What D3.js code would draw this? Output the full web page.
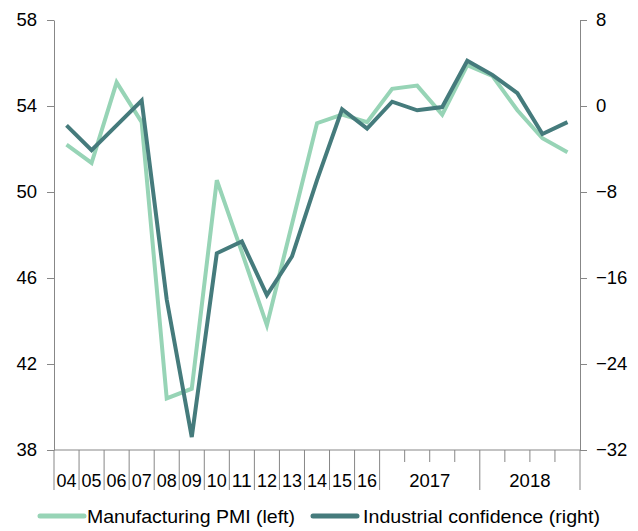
<!DOCTYPE html>
<html>
<head>
<meta charset="utf-8">
<script src="https://cdn.jsdelivr.net/npm/d3@7"></script>
<style>
  body { margin: 0; background: #fff; }
  text { font-family: "Liberation Sans", Arial, sans-serif; fill: #000; }
</style>
</head>
<body>
<div id="chart"></div>
<script>
// periods: yearly 2004-2016, then quarters for 2017 and 2018
const categories = ['04', '05', '06', '07', '08', '09', '10', '11', '12', '13', '14', '15', '16',
  '17Q1', '17Q2', '17Q3', '17Q4', '18Q1', '18Q2', '18Q3', '18Q4']
const yearLabels = ['04', '05', '06', '07', '08', '09', '10', '11', '12', '13', '14', '15', '16']
const groupLabels = [
  { label: '2017', first: '17Q1', last: '17Q4' },
  { label: '2018', first: '18Q1', last: '18Q4' }
]
const pmi = [52.2, 51.35, 55.1, 53.25, 40.4, 40.85, 50.55, 47.2, 43.8, 48.5, 53.2,
  53.6, 53.25, 54.8, 54.95, 53.6, 55.9, 55.4, 53.8, 52.5, 51.85]
const confidence = [-1.8, -4.1, -1.8, 0.5, -18.0, -30.8, -13.7, -12.6, -17.6, -14.0, -6.9,
  -0.3, -2.1, 0.4, -0.4, -0.1, 4.2, 2.9, 1.2, -2.6, -1.5]
const leftTicks = [38, 42, 46, 50, 54, 58]
const rightTicks = [-32, -24, -16, -8, 0, 8]

let width = 638
let height = 531
let margin = { top: 20, left: 54, right: 58, bottom: 81 }

let pmiColor = '#97d4b6'
let confColor = '#457b7c'
let axisColor = '#878787'

let svg = d3.select('#chart')
  .append('svg')
  .attr('width', width)
  .attr('height', height)

let x = d3.scaleBand()
  .domain(categories)
  .range([margin.left, width - margin.right])

let yLeft = d3.scaleLinear()
  .domain([38, 58])
  .range([height - margin.bottom, margin.top])

let yRight = d3.scaleLinear()
  .domain([-32, 8])
  .range([height - margin.bottom, margin.top])

// left axis
let leftAxis = svg.append('g')
  .attr('transform', `translate(${margin.left},0)`)
  .call(d3.axisLeft(yLeft).tickValues(leftTicks).tickSize(7).tickPadding(10).tickSizeOuter(0))
leftAxis.selectAll('path, line').attr('stroke', axisColor)
leftAxis.selectAll('text').attr('font-size', 18.5).attr('fill', '#000')

// right axis
let rightAxis = svg.append('g')
  .attr('transform', `translate(${width - margin.right},0)`)
  .call(d3.axisRight(yRight).tickValues(rightTicks).tickSize(7).tickPadding(9).tickSizeOuter(0))
rightAxis.selectAll('path, line').attr('stroke', axisColor)
rightAxis.selectAll('text').attr('font-size', 18.5).attr('fill', '#000')

// bottom axis: band boundaries, long between years, short between quarters
let baseY = height - margin.bottom
svg.append('line')
  .attr('x1', margin.left)
  .attr('x2', width - margin.right)
  .attr('y1', baseY)
  .attr('y2', baseY)
  .attr('stroke', axisColor)

let boundaries = categories.map(c => ({ pos: x(c), long: !c.includes('Q') || c.endsWith('Q1') }))
boundaries.push({ pos: x.range()[1], long: true })

svg.selectAll('.x-tick')
  .data(boundaries)
  .enter()
  .append('line')
  .attr('class', 'x-tick')
  .attr('x1', d => d.pos)
  .attr('x2', d => d.pos)
  .attr('y1', baseY)
  .attr('y2', d => d.long ? baseY + 40 : baseY + 12)
  .attr('stroke', axisColor)

svg.selectAll('.year-label')
  .data(yearLabels)
  .enter()
  .append('text')
  .attr('class', 'year-label')
  .attr('x', d => x(d) + x.bandwidth() / 2)
  .attr('y', baseY + 37)
  .attr('text-anchor', 'middle')
  .attr('font-size', 18.5)
  .attr('textLength', 20)
  .attr('lengthAdjust', 'spacingAndGlyphs')
  .text(d => d)

svg.selectAll('.group-label')
  .data(groupLabels)
  .enter()
  .append('text')
  .attr('class', 'group-label')
  .attr('x', d => (x(d.first) + x(d.last) + x.bandwidth()) / 2)
  .attr('y', baseY + 37)
  .attr('text-anchor', 'middle')
  .attr('font-size', 18.5)
  .text(d => d.label)

// lines
let pmiLine = d3.line()
  .x((d, i) => x(categories[i]) + x.bandwidth() / 2)
  .y(d => yLeft(d))

let confLine = d3.line()
  .x((d, i) => x(categories[i]) + x.bandwidth() / 2)
  .y(d => yRight(d))

svg.append('path')
  .datum(pmi)
  .attr('d', pmiLine)
  .attr('fill', 'none')
  .attr('stroke', pmiColor)
  .attr('stroke-width', 4)
  .attr('stroke-linejoin', 'miter')

svg.append('path')
  .datum(confidence)
  .attr('d', confLine)
  .attr('fill', 'none')
  .attr('stroke', confColor)
  .attr('stroke-width', 4)
  .attr('stroke-linejoin', 'miter')

// legend
let legendItems = [
  { name: 'Manufacturing PMI (left)', color: pmiColor, x: 40, gap: 47, len: 208 },
  { name: 'Industrial confidence (right)', color: confColor, x: 313, gap: 50, len: 237 }
]

let legend = svg.selectAll('.legend')
  .data(legendItems)
  .enter()
  .append('g')
  .attr('class', 'legend')
  .attr('transform', d => `translate(${d.x},516)`)

legend.append('line')
  .attr('x1', 0)
  .attr('x2', 44)
  .attr('stroke', d => d.color)
  .attr('stroke-width', 5)
  .attr('stroke-linecap', 'round')

legend.append('text')
  .attr('x', d => d.gap)
  .attr('y', 7)
  .attr('font-size', 19)
  .attr('textLength', d => d.len)
  .attr('lengthAdjust', 'spacingAndGlyphs')
  .text(d => d.name)
</script>
</body>
</html>
